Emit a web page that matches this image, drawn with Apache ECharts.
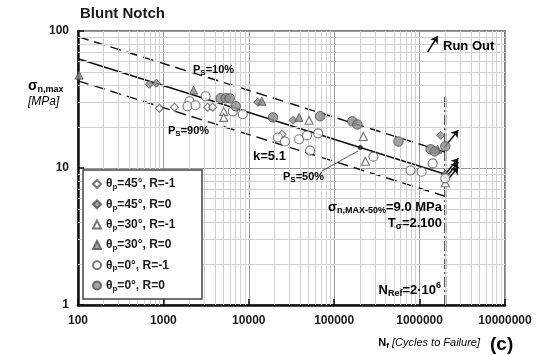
<!DOCTYPE html>
<html><head><meta charset="utf-8">
<script src="https://cdn.jsdelivr.net/npm/echarts@6/dist/echarts.min.js"></script>
<style>html,body{margin:0;padding:0;background:#fff}#c{width:546px;height:355px}</style>
</head><body><div id="c"></div>
<script>
// ---- data ----
const xTickLabels = [100, 1000, 10000, 100000, 1000000, 10000000];
const yTickLabels = [1, 10, 100];
const minorMult = [2, 3, 4, 5, 6, 7, 8, 9];
const xDecades = [100, 1000, 10000, 100000, 1000000];
const yDecades = [1, 10];

// theta_p = 45 deg, R = -1 (open diamond)
const s45m1N = [898, 1347, 3296, 3770, 24450];
const s45m1S = [27.3, 27.8, 27.8, 27.8, 17.6];
// theta_p = 45 deg, R = 0 (filled diamond)
const s45r0N = [684, 828, 12760, 32960, 1767000, 2000000];
const s45r0S = [40.9, 41.6, 30.2, 22.3, 17.3, 9.0];
// theta_p = 30 deg, R = -1 (open triangle)
const s30m1N = [5082, 5082, 50800, 219300, 231700, 2000000];
const s30m1S = [25.9, 23.4, 22.3, 17.0, 11.2, 7.8];
// theta_p = 30 deg, R = 0 (filled triangle)
const s30r0N = [103, 2254, 14220, 38730, 1629000];
const s30r0S = [47.6, 37.0, 30.7, 23.4, 13.7];
// theta_p = 0 deg, R = -1 (open circle)
const s0m1N = [2023, 1916, 2378, 3121, 6486, 8490, 21930, 26530, 38730, 48080, 64850, 52220, 287700, 783000, 1056000, 1422000, 2000000];
const s0m1S = [30.7, 28.2, 28.7, 33.4, 25.9, 24.7, 16.7, 15.6, 16.2, 17.3, 17.9, 13.4, 12.1, 9.6, 9.4, 10.8, 8.4];
// theta_p = 0 deg, R = 0 (filled circle)
const s0r0N = [4685, 5363, 5976, 7030, 19150, 68440, 163000, 186600, 566000, 1346000, 1500000, 2000000];
const s0r0S = [32.3, 32.3, 32.3, 28.2, 23.4, 23.9, 21.9, 20.8, 15.6, 13.7, 13.2, 14.4];

// run-out arrows (start / end)
const runStartN = [2000000, 2000000, 2000000, 2000000];
const runStartS = [14.4, 9.0, 8.4, 7.8];
const runEndN = [2840000, 2840000, 2840000, 2840000];
const runEndS = [18.9, 11.8, 11.0, 10.2];

// fitted scatter band lines (endpoints)
const bandN = [100, 2000000];
const p10S = [90.9, 13.04];
const p50S = [62.7, 9.0];
const p90S = [43.3, 6.21];
const nRef = 2000000;
const nRefLineS = [1, 33.4];
const p50MarkerN = [202000];
const p50MarkerS = [14.1];
const runLegendN = [1240000, 1630000];
const runLegendS = [70.2, 91.9];

const names = ['45m1', '45r0', '30m1', '30r0', '0m1', '0r0'];
const legendText = {
  '45m1': '{t|θ}{s|p}{t|=45°, R=-1}',
  '45r0': '{t|θ}{s|p}{t|=45°, R=0}',
  '30m1': '{t|θ}{s|p}{t|=30°, R=-1}',
  '30r0': '{t|θ}{s|p}{t|=30°, R=0}',
  '0m1': '{t|θ}{s|p}{t|=0°, R=-1}',
  '0r0': '{t|θ}{s|p}{t|=0°, R=0}'
};

// ---- build ----
const zip = (a, b) => a.map((v, i) => [v, b[i]]);
const FONT = 'Arial, "Liberation Sans", Helvetica, sans-serif';
const openStyle = { color: '#ffffff', borderColor: '#555', borderWidth: 1.1 };
const fillStyle = { color: '#8c8c8c', borderColor: '#4d4d4d', borderWidth: 1 };

function sc(name, N, S, symbol, size, style) {
  return { name, type: 'scatter', data: zip(N, S), symbol, symbolSize: size,
    itemStyle: style, z: 5, silent: true };
}

const minorX = [], minorY = [];
xDecades.forEach(d => minorMult.forEach(m => minorX.push(d * m)));
yDecades.forEach(d => minorMult.forEach(m => minorY.push(d * m)));

const chart = echarts.init(document.getElementById('c'), null, { renderer: 'canvas' });

const subRich = {
  t: { fontFamily: FONT, fontWeight: 'bold', fontSize: 11, color: '#1a1a1a', lineHeight: 14 },
  s: { fontFamily: FONT, fontWeight: 'bold', fontSize: 8, color: '#1a1a1a', verticalAlign: 'bottom' }
};

function txt(x, y, text, rich, align) {
  return { type: 'text', x, y, z: 20, silent: true,
    style: { text, rich, align: align || 'left', verticalAlign: 'middle', fontFamily: FONT } };
}

const bigRich = {
  t: { fontFamily: FONT, fontWeight: 'bold', fontSize: 13, color: '#1a1a1a', lineHeight: 17 },
  s: { fontFamily: FONT, fontWeight: 'bold', fontSize: 9, color: '#1a1a1a', verticalAlign: 'bottom' },
  u: { fontFamily: FONT, fontWeight: 'bold', fontSize: 9, color: '#1a1a1a', verticalAlign: 'top' }
};

const option = {
  animation: false,
  backgroundColor: '#ffffff',
  grid: { left: 78, right: 41, top: 31, bottom: 50, show: true, borderColor: '#555', borderWidth: 1.5 },
  xAxis: {
    type: 'log', logBase: 10, min: 100, max: 10000000,
    axisLine: { lineStyle: { color: '#111', width: 2.5 } },
    axisTick: { inside: true, length: 6, lineStyle: { color: '#111', width: 1.5 } },
    axisLabel: { fontFamily: FONT, fontWeight: 'bold', fontSize: 12, color: '#1a1a1a', margin: 10,
      formatter: v => String(Math.round(v)) },
    splitLine: { show: true, lineStyle: { color: '#9a9a9a', width: 1 } }
  },
  yAxis: {
    type: 'log', logBase: 10, min: 1, max: 100,
    axisLine: { lineStyle: { color: '#111', width: 2.5 } },
    axisTick: { inside: true, length: 6, lineStyle: { color: '#111', width: 1.5 } },
    axisLabel: { fontFamily: FONT, fontWeight: 'bold', fontSize: 12, color: '#1a1a1a', margin: 9,
      formatter: v => String(Math.round(v)) },
    splitLine: { show: true, lineStyle: { color: '#9a9a9a', width: 1 } }
  },
  legend: {
    data: names, orient: 'vertical', left: 83, top: 173, selectedMode: false, z: 40,
    backgroundColor: 'transparent', borderWidth: 0,
    padding: [5, 8, 5, 9], itemGap: 7.3, itemWidth: 8, itemHeight: 8,
    formatter: n => legendText[n],
    textStyle: { rich: {
      t: { fontFamily: FONT, fontWeight: 'bold', fontSize: 12, color: '#1a1a1a', lineHeight: 14 },
      s: { fontFamily: FONT, fontWeight: 'bold', fontSize: 8, color: '#1a1a1a', verticalAlign: 'bottom' }
    } }
  },
  series: [
    { type: 'line', data: [], z: 1, silent: true,
      markLine: { silent: true, symbol: ['none', 'none'], label: { show: false },
        lineStyle: { color: '#d2d2d2', width: 1, type: 'solid' }, animation: false,
        data: minorX.map(v => ({ xAxis: v })).concat(minorY.map(v => ({ yAxis: v }))) } },
    { type: 'line', data: zip(bandN, p10S), showSymbol: false, silent: true, z: 3,
      lineStyle: { color: '#111', width: 1.4, type: [11, 6] } },
    { type: 'line', data: zip(bandN, p90S), showSymbol: false, silent: true, z: 3,
      lineStyle: { color: '#111', width: 1.4, type: [11, 6] } },
    { type: 'line', data: zip(bandN, p50S), showSymbol: false, silent: true, z: 3,
      lineStyle: { color: '#111', width: 1.6 } },
    { type: 'line', data: zip([nRef, nRef], nRefLineS), showSymbol: false, silent: true, z: 3,
      lineStyle: { color: '#111', width: 2, type: [10, 3, 2, 3] } },
    { type: 'scatter', data: zip(p50MarkerN, p50MarkerS), symbol: 'circle', symbolSize: 5,
      itemStyle: { color: '#111' }, z: 6, silent: true },
    { type: 'line', data: [], z: 7, silent: true,
      markLine: { silent: true, symbol: ['none', 'arrow'], symbolSize: 7, label: { show: false },
        lineStyle: { color: '#111', width: 1.5, type: 'solid' }, animation: false,
        data: runStartN.map((n, i) => [{ coord: [n, runStartS[i]] }, { coord: [runEndN[i], runEndS[i]] }])
          .concat([[{ coord: [runLegendN[0], runLegendS[0]] }, { coord: [runLegendN[1], runLegendS[1]] }]]) } },
    sc('45m1', s45m1N, s45m1S, 'diamond', 8, openStyle),
    sc('45r0', s45r0N, s45r0S, 'diamond', 8, fillStyle),
    sc('30m1', s30m1N, s30m1S, 'triangle', 8, openStyle),
    sc('30r0', s30r0N, s30r0S, 'triangle', 8, fillStyle),
    sc('0m1', s0m1N, s0m1S, 'circle', 9, openStyle),
    sc('0r0', s0r0N, s0r0S, 'circle', 9.5, fillStyle)
  ],
  graphic: [
    { type: 'rect', z: 30, silent: true, shape: { x: 83, y: 170, width: 119, height: 129 },
      style: { fill: '#ffffff', stroke: '#444', lineWidth: 1.5 } },
    { type: 'text', x: 80, y: 14, z: 20, silent: true,
      style: { text: 'Blunt Notch', font: 'bold 15px ' + FONT, fill: '#1a1a1a', verticalAlign: 'middle' } },
    txt(28, 94, '{g|σ}{s|n,max}\n{i|[MPa]}', {
      g: { fontFamily: FONT, fontWeight: 'bold', fontSize: 14, color: '#1a1a1a', lineHeight: 16 },
      s: { fontFamily: FONT, fontWeight: 'bold', fontSize: 9, color: '#1a1a1a', verticalAlign: 'bottom' },
      i: { fontFamily: FONT, fontStyle: 'italic', fontSize: 12, color: '#1a1a1a', lineHeight: 15 }
    }),
    txt(193, 70, '{t|P}{s|S}{t|=10%}', subRich),
    txt(168, 131, '{t|P}{s|S}{t|=90%}', subRich),
    txt(283, 177, '{t|P}{s|S}{t|=50%}', subRich),
    { type: 'line', z: 19, silent: true, shape: { x1: 322, y1: 171, x2: 358, y2: 151 },
      style: { stroke: '#333', lineWidth: 0.8 } },
    txt(253, 156, '{t|k=5.1}', { t: { fontFamily: FONT, fontWeight: 'bold', fontSize: 13, color: '#1a1a1a' } }),
    txt(442, 207, '{t|σ}{s|n,MAX-50%}{t|=9.0 MPa}', bigRich, 'right'),
    txt(442, 223, '{t|T}{s|σ}{t|=2.100}', bigRich, 'right'),
    txt(441, 290, '{t|N}{s|Ref}{t|=2·10}{u|6}', bigRich, 'right'),
    txt(443, 46, '{t|Run Out}', { t: { fontFamily: FONT, fontWeight: 'bold', fontSize: 13, color: '#1a1a1a' } }),
    txt(480, 343, '{b|N}{s|f}{i| [Cycles to Failure]}', {
      b: { fontFamily: FONT, fontWeight: 'bold', fontSize: 11, color: '#1a1a1a', lineHeight: 14 },
      s: { fontFamily: FONT, fontWeight: 'bold', fontSize: 8, color: '#1a1a1a', verticalAlign: 'bottom' },
      i: { fontFamily: FONT, fontStyle: 'italic', fontSize: 11, color: '#1a1a1a', lineHeight: 14 }
    }, 'right'),
    txt(490, 345, '{t|(c)}', { t: { fontFamily: FONT, fontWeight: 'bold', fontSize: 19, color: '#1a1a1a' } })
  ]
};
chart.setOption(option);
</script>
</body></html>
